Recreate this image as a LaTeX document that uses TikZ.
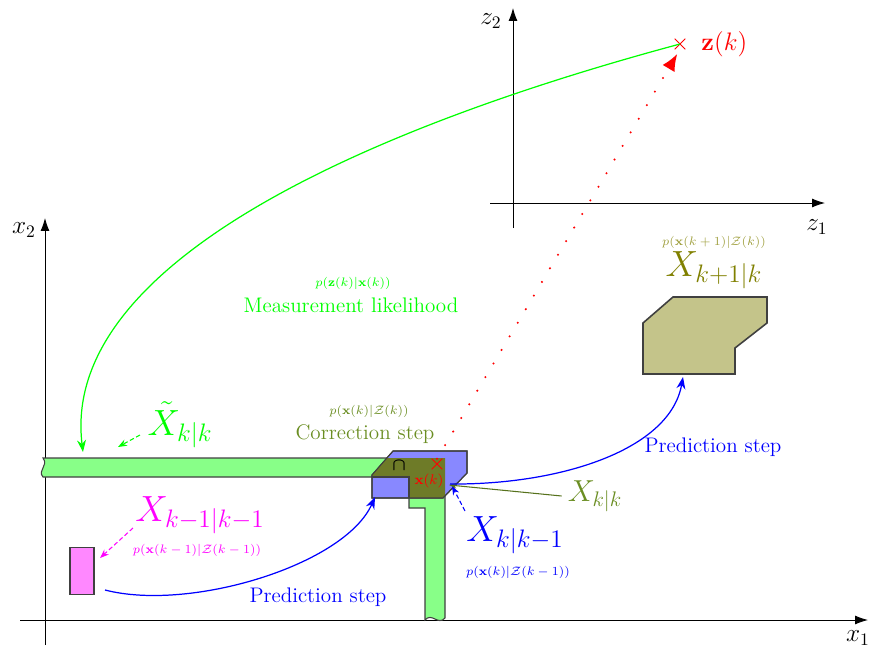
\documentclass[tikz,border=0pt]{standalone}
\usepackage{amsmath,amssymb}
\usepackage{xcolor}
\usepackage{tikz}
\usetikzlibrary{arrows.meta,positioning,shapes.misc}
\definecolor{MeasGreen}{HTML}{00FF00}
\definecolor{BarGreen}{HTML}{88FF88}
\definecolor{PredBlue}{HTML}{0000FF}
\definecolor{BoxBlue}{HTML}{8888FF}
\definecolor{CutOlive}{HTML}{6E7B28}
\definecolor{CorrOlive}{HTML}{6B8E23}
\definecolor{NextOlive}{HTML}{808000}
\definecolor{NextLight}{HTML}{A0A040}
\definecolor{NextFill}{HTML}{C4C48A}
\definecolor{PriorMag}{HTML}{FF00FF}
\definecolor{PriorFill}{HTML}{FF88FF}
\definecolor{MeasRed}{HTML}{FF0000}

\begin{document}
\begin{tikzpicture}[
  x=0.02cm,y=-0.02cm,
  axis/.style={-{Latex[length=2.6mm,width=1.8mm]},line width=0.5pt},
  axislabel/.style={font=\Large},
  setlabel/.style={font=\huge},
  problabel/.style={font=\scriptsize},
  steplabel/.style={font=\large},
  region/.style={draw=black!75,line width=0.6pt},
  pointer/.style={dash pattern=on 2.5pt off 1.5pt,-{Stealth[length=1.8mm]},line width=0.6pt},
  curvearrow/.style={-{Stealth[length=2.4mm]},line width=0.7pt},
  crossmark/.style={cross out,draw=MeasRed,minimum size=5.5pt,inner sep=0pt,line width=0.5pt}
]
\useasboundingbox (0,0) rectangle (872,652);

% axes of the state space and of the measurement space
\coordinate (xw) at (20,620);  \coordinate (xe) at (868,620);
\coordinate (xs) at (45,645);  \coordinate (xn) at (45,218);
\coordinate (zw) at (490,203); \coordinate (ze) at (825,203);
\coordinate (zs) at (513,228); \coordinate (zn) at (513,8);
\draw[axis] (xw) -- (xe);
\draw[axis] (xs) -- (xn);
\draw[axis] (zw) -- (ze);
\draw[axis] (zs) -- (zn);
\node[axislabel] (lx1) at (858,638) {$x_1$};
\node[axislabel] (lx2) at (24,230) {$x_2$};
\node[axislabel] (lz1) at (817,227) {$z_1$};
\node[axislabel] (lz2) at (491,21) {$z_2$};

% state sets
\node[region,fill=PriorFill,minimum width=0.48cm,minimum height=0.94cm,inner sep=0pt] (prior) at (82,571) {};
\filldraw[region,fill=BarGreen] (43,458) -- (445,458) -- (445,618)
  .. controls (438,626) and (432,612) .. (425,620) -- (425,508) -- (409,508)
  -- (409,477) -- (43,477) .. controls (37,470) and (49,466) .. cycle;
\filldraw[region,fill=BoxBlue] (372,475) -- (393,451) -- (467,451) -- (467,473)
  -- (443,498) -- (372,498) -- cycle;
\begin{scope}
  \clip (43,458) -- (445,458) -- (445,620) -- (425,620) -- (425,508) -- (409,508)
    -- (409,477) -- (43,477) -- cycle;
  \fill[CutOlive] (372,475) -- (393,451) -- (467,451) -- (467,473)
    -- (443,498) -- (372,498) -- cycle;
\end{scope}
\draw[region] (372,475) -- (393,451) -- (467,451) -- (467,473) -- (443,498) -- (372,498) -- cycle;
\draw[region] (372,477) -- (409,477) -- (409,498);
\filldraw[region,fill=NextFill,line width=0.9pt] (643,323) -- (673,297) -- (767,297) -- (767,323)
  -- (735,348) -- (735,374) -- (643,374) -- cycle;
\node (cap) at (399,466) {$\boldsymbol{\cap}$};

% measurement and state point
\node[crossmark] (zk) at (680,44) {};
\node[font=\Large,text=MeasRed,right=2mm of zk] (lzk) {$\mathbf{z}(k)$};
\node[crossmark] (xk) at (437,464) {};
\node[font=\footnotesize,text=MeasRed] (lxk) at (429,481) {$\mathbf{x}(k)$};

% labels
\node[problabel,text=MeasGreen] (pzx) at (353,283) {$p(\mathbf{z}(k)|\mathbf{x}(k))$};
\node[steplabel,text=MeasGreen] (meas) at (351,305) {Measurement likelihood};
\node[setlabel,text=MeasGreen] (xtilde) at (180,425) {$\tilde{X}_{k|k}$};
\node[problabel,text=CorrOlive] (pcorr) at (369,411) {$p(\mathbf{x}(k)|\mathcal{Z}(k))$};
\node[steplabel,text=CorrOlive] (corr) at (365,434) {Correction step};
\node[problabel,text=NextLight] (pnext) at (714,242) {$p(\mathbf{x}(k+1)|\mathcal{Z}(k))$};
\node[setlabel,text=NextOlive] (xnext) at (714,270) {$X_{k+1|k}$};
\node[steplabel,text=PredBlue] (predR) at (713,447) {Prediction step};
\node[font=\LARGE,text=CorrOlive] (xpost) at (595,496) {$X_{k|k}$};
\node[setlabel,text=PredBlue] (xpred) at (515,535) {$X_{k|k-1}$};
\node[problabel,text=PredBlue] (ppred) at (518,572) {$p(\mathbf{x}(k)|\mathcal{Z}(k-1))$};
\node[setlabel,text=PriorMag] (xprior) at (200,515) {$X_{k-1|k-1}$};
\node[problabel,text=PriorMag] (pprior) at (197,550) {$p(\mathbf{x}(k-1)|\mathcal{Z}(k-1))$};
\node[steplabel,text=PredBlue] (predB) at (318,597) {Prediction step};

% connectors
\coordinate (gtip) at (83,452);
\coordinate (tiltip) at (118,447);
\coordinate (priortip) at (100,558);
\coordinate (predtip) at (452,486);
\coordinate (posttip) at (449,485);
\coordinate (blueout) at (105,590);
\coordinate (bluein) at (375,497);
\coordinate (boxout) at (450,484);
\coordinate (nextin) at (683,377);
\draw[curvearrow,MeasGreen] (zk.center) .. controls (360,130) and (60,265) .. (gtip);
\draw[MeasRed,line width=1.3pt,line cap=round,dash pattern=on 0pt off 9pt,
  -{Latex[length=3.4mm,width=2.8mm]},shorten >=3pt] (xk.north) -- (zk.south);
\draw[pointer,MeasGreen] (140,435) -- (tiltip);
\draw[pointer,PriorMag] (133,528) -- (priortip);
\draw[pointer,PredBlue] (465,511) -- (predtip);
\draw[CorrOlive!80!black,-{Stealth[length=1.5mm]},line width=0.6pt] (xpost.west) -- (posttip);
\draw[curvearrow,PredBlue] (blueout) .. controls (190,612) and (345,565) .. (bluein);
\draw[curvearrow,PredBlue] (boxout) .. controls (560,485) and (670,450) .. (nextin);
\end{tikzpicture}
\end{document}
